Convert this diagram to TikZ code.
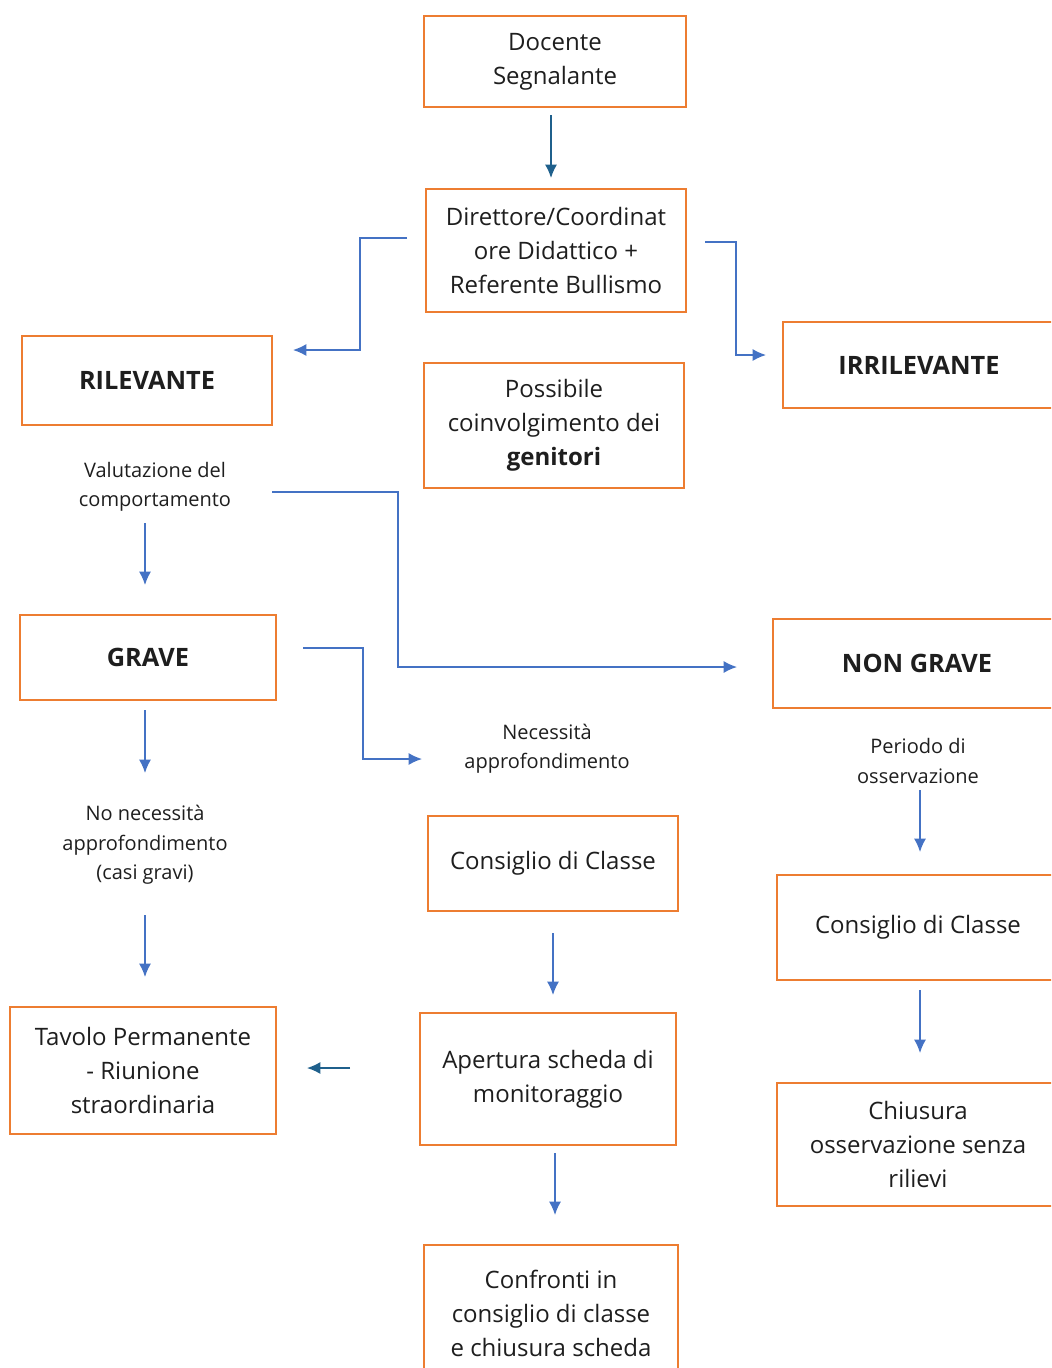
\documentclass[tikz,border=0pt]{standalone}
\usepackage{fontspec}
\setmainfont{Open Sans}
\usetikzlibrary{positioning}
\usetikzlibrary{shapes}
\usetikzlibrary{arrows.meta}

\definecolor{arancio}{RGB}{237,125,49}
\definecolor{blu}{RGB}{68,114,196}
\definecolor{bluscuro}{RGB}{31,96,140}
\definecolor{testo}{RGB}{30,30,30}

\begin{document}
\begin{tikzpicture}[x=0.75pt,y=-0.75pt,align=center,text=testo,
casella/.style={draw=arancio,line width=1.3pt,inner sep=0pt,font=\fontsize{18}{25.5}\selectfont},
titolo/.style={casella,font=\fontsize{19}{25}\selectfont\bfseries},
nota/.style={inner sep=0pt,font=\fontsize{15}{22}\selectfont},
freccia/.style={draw=blu,line width=1.1pt,-{Latex[length=10pt,width=9pt]}},
frecciaS/.style={freccia,draw=bluscuro}
]
\clip (0,0) rectangle (1051,1368);
%--
\node[casella,minimum width=196.5pt,minimum height=68.25pt](doc) at (555,61.5){Docente\\Segnalante};
\node[casella,minimum width=195pt,minimum height=92.25pt](dir) at (556,250.5){Direttore/Coordinat\\ore Didattico +\\Referente Bullismo};
\draw[frecciaS] ([shift={(-4,53.5)}]doc.center) -- ([shift={(-5,-72.5)}]dir.center);
%--
\node[titolo,minimum width=187.5pt,minimum height=66.75pt](ril) at (147,380.5){RILEVANTE};
\node[titolo,minimum width=204pt,minimum height=64.5pt](irr) at (919,365){IRRILEVANTE};
\node[casella,minimum width=195pt,minimum height=93.75pt](pos) at (554,425.5){Possibile\\coinvolgimento dei\\\textbf{genitori}};
\draw[freccia] ([shift={(-149,-12.5)}]dir.center) -| (360,350) -- ([shift={(146,-30.5)}]ril.center);
\draw[freccia] ([shift={(149,-8.5)}]dir.center) -| (736,355) -- ([shift={(-153,-10)}]irr.center);
%--
\node[nota](val) at (155,487){Valutazione del\\comportamento};
\node[titolo,minimum width=192pt,minimum height=63.75pt](grave) at (148,657.5){GRAVE};
\node[titolo,minimum width=216pt,minimum height=66.75pt](nongr) at (917,663.5){NON GRAVE};
\draw[freccia] ([shift={(-10,36)}]val.center) -- ([shift={(-3,-72.5)}]grave.center);
\draw[freccia] ([shift={(117,5)}]val.center) -| (398,667) -- ([shift={(-180,3.5)}]nongr.center);
%--
\node[nota](nec) at (547,749){Necessità\\approfondimento};
\node[nota](nonec) at (145,845){No necessità\\approfondimento\\(casi gravi)};
\node[nota](per) at (918,761){Periodo di\\osservazione};
\draw[freccia] ([shift={(155,-9.5)}]grave.center) -| (363,759) -- ([shift={(-125,10)}]nec.center);
\draw[freccia] ([shift={(-3,52.5)}]grave.center) -- ([shift={(0,-72)}]nonec.center);
%--
\node[casella,minimum width=187.5pt,minimum height=71.25pt](cons) at (553,863.5){Consiglio di Classe};
\node[casella,minimum width=211.5pt,minimum height=78.75pt](consB) at (918,927.5){Consiglio di Classe};
\node[casella,minimum width=199.5pt,minimum height=95.25pt](tav) at (143,1070.5){Tavolo Permanente\\- Riunione\\straordinaria};
\node[casella,minimum width=192pt,minimum height=99pt](ape) at (548,1079){Apertura scheda di\\monitoraggio};
\node[casella,minimum width=211.5pt,minimum height=92.25pt](chi) at (918,1144.5){Chiusura\\osservazione senza\\rilievi};
\node[casella,minimum width=190.5pt,minimum height=102pt](conf) at (551,1313){Confronti in\\consiglio di classe\\e chiusura scheda};
%--
\draw[freccia] ([shift={(2,29)}]per.center) -- ([shift={(2,-75.5)}]consB.center);
\draw[freccia] ([shift={(0,70)}]nonec.center) -- ([shift={(2,-93.5)}]tav.center);
\draw[freccia] ([shift={(0,69.5)}]cons.center) -- ([shift={(5,-84)}]ape.center);
\draw[freccia] ([shift={(2,62.5)}]consB.center) -- ([shift={(2,-91.5)}]chi.center);
\draw[freccia] ([shift={(7,74)}]ape.center) -- ([shift={(4,-98)}]conf.center);
\draw[frecciaS] ([shift={(-198,-11)}]ape.center) -- ([shift={(164,-2.5)}]tav.center);
\end{tikzpicture}
\end{document}
